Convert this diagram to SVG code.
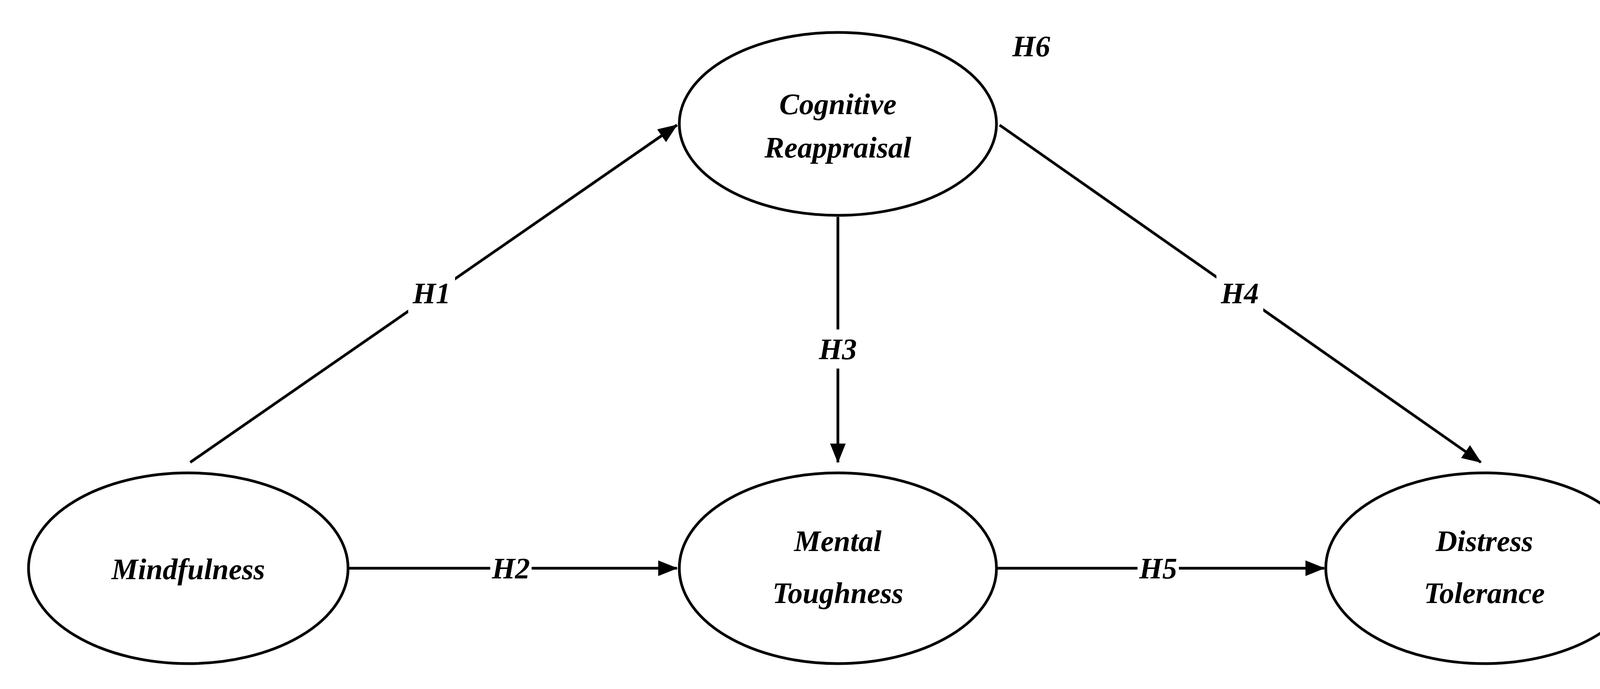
<svg xmlns="http://www.w3.org/2000/svg" width="4246" height="1763" viewBox="0 0 4246 1763">
<style>
.n{fill:#fff;stroke:#000;stroke-width:7}
.t{font-family:"Liberation Serif",serif;font-weight:bold;font-style:italic;font-size:76px;text-anchor:middle;dominant-baseline:central;fill:#000}
.c{stroke:#000;stroke-width:7;fill:none}
.bg{fill:#fff}
</style>
<defs><marker id="a" markerWidth="50" markerHeight="40" refX="48" refY="20" orient="auto" markerUnits="userSpaceOnUse"><path d="M0,0 L50,20 L0,40 z" fill="#000"/></marker></defs>
<g id="connectors">
<line class="c" x1="487" y1="1183" x2="1733" y2="320" marker-end="url(#a)"/>
<line class="c" x1="2145" y1="555" x2="2145" y2="1183" marker-end="url(#a)"/>
<line class="c" x1="2559" y1="320" x2="3791" y2="1183" marker-end="url(#a)"/>
<line class="c" x1="894" y1="1454" x2="1733" y2="1454" marker-end="url(#a)"/>
<line class="c" x1="2551" y1="1454" x2="3390" y2="1454" marker-end="url(#a)"/>
<rect class="bg" x="1045" y="700" width="120" height="100"/>
<rect class="bg" x="2085" y="843" width="120" height="100"/>
<rect class="bg" x="3114" y="700" width="120" height="100"/>
<rect class="bg" x="1255" y="1434" width="106" height="40"/>
<rect class="bg" x="2912" y="1434" width="106" height="40"/>
<text class="t" x="1105" y="750">H1</text>
<text class="t" x="1308" y="1454">H2</text>
<text class="t" x="2145" y="893">H3</text>
<text class="t" x="3174" y="750">H4</text>
<text class="t" x="2965" y="1454">H5</text>
</g>
<g id="cognitive"><ellipse class="n" cx="2145" cy="317" rx="406" ry="234"/><text class="t" x="2145" y="266">Cognitive</text><text class="t" x="2145" y="377">Reappraisal</text></g>
<g id="mindfulness"><ellipse class="n" cx="482" cy="1454" rx="409" ry="244"/><text class="t" x="482" y="1456">Mindfulness</text></g>
<g id="mental"><ellipse class="n" cx="2145" cy="1454" rx="406" ry="244"/><text class="t" x="2145" y="1384">Mental</text><text class="t" x="2145" y="1517">Toughness</text></g>
<g id="distress"><ellipse class="n" cx="3800" cy="1454" rx="406" ry="244"/><text class="t" x="3800" y="1384">Distress</text><text class="t" x="3800" y="1517">Tolerance</text></g>
<g id="h6"><text class="t" x="2640" y="118">H6</text></g>
</svg>
